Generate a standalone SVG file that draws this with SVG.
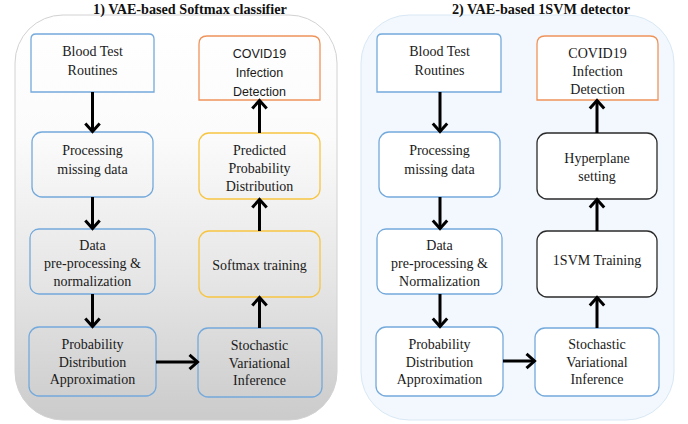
<svg xmlns="http://www.w3.org/2000/svg" width="688" height="424" viewBox="0 0 688 424">
  <defs>
    <linearGradient id="panelGray" x1="0" y1="0" x2="0" y2="1">
      <stop offset="0" stop-color="#ffffff"/>
      <stop offset="0.3" stop-color="#fbfbfb"/>
      <stop offset="0.65" stop-color="#e6e6e6"/>
      <stop offset="1" stop-color="#cbcbcb"/>
    </linearGradient>
    <marker id="chev" markerUnits="userSpaceOnUse" markerWidth="16" markerHeight="18" viewBox="0 0 16 18" refX="11.5" refY="9" orient="auto">
      <path d="M3,1.8 L11,9 L3,16.2" fill="none" stroke="#000" stroke-width="3" stroke-linejoin="miter"/>
    </marker>
    <style>
      .title { font-family: "Liberation Serif", "Times New Roman", serif; font-weight: bold; font-size: 14.2px; fill: #111; text-anchor: middle; }
      .lbl { font-family: "Liberation Serif", "Times New Roman", serif; font-size: 14px; fill: #1a1a1a; text-anchor: middle; }
      .sans { font-family: "Liberation Sans", Arial, sans-serif; font-size: 12.5px; fill: #1a1a1a; text-anchor: middle; }
      .blue { fill: none; stroke: #74a9dc; stroke-width: 1.3; }
      .blueW { fill: #ffffff; stroke: #74a9dc; stroke-width: 1.3; }
      .yellow { fill: none; stroke: #f7c540; stroke-width: 1.3; }
      .orange { fill: none; stroke: #f0935a; stroke-width: 1.3; }
      .orangeW { fill: #ffffff; stroke: #f0935a; stroke-width: 1.3; }
      .dark { fill: #ffffff; stroke: #2a2a2a; stroke-width: 1.3; }
      .conn { stroke: #000; stroke-width: 3; fill: none; marker-end: url(#chev); }
    </style>
  </defs>

  <!-- panel backgrounds -->
  <g id="panel-softmax">
    <rect x="15" y="15" width="322" height="405" rx="48" ry="48" fill="url(#panelGray)" stroke="#d2d2d2" stroke-width="1"/>
    <text class="title" x="190" y="14">1)  VAE-based Softmax classifier</text>
  </g>
  <g id="panel-1svm">
    <rect x="361" y="15" width="313" height="405" rx="48" ry="48" fill="#f2f8fd" stroke="#d9e8f5" stroke-width="1"/>
    <text class="title" x="541" y="14">2)  VAE-based 1SVM detector</text>
  </g>

  <!-- left flow -->
  <g id="L-blood">
    <path class="blue" d="M31,92 L31,39 Q31,34 36,34 L149,34 Q154,34 154,39 L154,92 Z"/>
    <text class="lbl" x="92.5" y="56">Blood Test</text>
    <text class="lbl" x="92.5" y="75">Routines</text>
  </g>
  <g id="L-missing">
    <rect class="blue" x="32" y="132" width="121" height="65" rx="10"/>
    <text class="lbl" x="92.5" y="155">Processing</text>
    <text class="lbl" x="92.5" y="174">missing data</text>
  </g>
  <g id="L-preproc">
    <rect class="blue" x="30" y="229" width="125" height="65" rx="9"/>
    <text class="lbl" x="92.5" y="250">Data</text>
    <text class="lbl" x="92.5" y="268">pre-processing &amp;</text>
    <text class="lbl" x="92.5" y="286">normalization</text>
  </g>
  <g id="L-approx">
    <rect class="blue" x="29" y="327" width="127" height="69" rx="10"/>
    <text class="lbl" x="92.5" y="349">Probability</text>
    <text class="lbl" x="92.5" y="366.5">Distribution</text>
    <text class="lbl" x="92.5" y="384">Approximation</text>
  </g>
  <g id="L-svi">
    <rect class="blue" x="198" y="328" width="124" height="69" rx="10"/>
    <text class="lbl" x="259.5" y="350">Stochastic</text>
    <text class="lbl" x="259.5" y="367.5">Variational</text>
    <text class="lbl" x="259.5" y="385">Inference</text>
  </g>
  <g id="L-softmax">
    <rect class="yellow" x="199" y="231" width="121" height="66" rx="10"/>
    <text class="lbl" x="259.5" y="270">Softmax training</text>
  </g>
  <g id="L-predicted">
    <rect class="yellow" x="199" y="133" width="121" height="66" rx="10"/>
    <text class="lbl" x="259.5" y="155">Predicted</text>
    <text class="lbl" x="259.5" y="173">Probability</text>
    <text class="lbl" x="259.5" y="191">Distribution</text>
  </g>
  <g id="L-covid">
    <path class="orange" d="M199,100 L199,44 Q199,36 207,36 L312,36 Q320,36 320,44 L320,100 Z"/>
    <text class="sans" x="259.5" y="58">COVID19</text>
    <text class="sans" x="259.5" y="77">Infection</text>
    <text class="sans" x="259.5" y="96">Detection</text>
  </g>

  <!-- right flow -->
  <g id="R-blood">
    <path class="blueW" d="M377,92 L377,39 Q377,34 382,34 L496,34 Q501,34 501,39 L501,92 Z"/>
    <text class="lbl" x="439.5" y="56">Blood Test</text>
    <text class="lbl" x="439.5" y="75">Routines</text>
  </g>
  <g id="R-missing">
    <rect class="blueW" x="379" y="132" width="121" height="65" rx="10"/>
    <text class="lbl" x="439.5" y="155">Processing</text>
    <text class="lbl" x="439.5" y="174">missing data</text>
  </g>
  <g id="R-preproc">
    <rect class="blueW" x="377" y="229" width="125" height="65" rx="9"/>
    <text class="lbl" x="439.5" y="250">Data</text>
    <text class="lbl" x="439.5" y="268">pre-processing &amp;</text>
    <text class="lbl" x="439.5" y="286">Normalization</text>
  </g>
  <g id="R-approx">
    <rect class="blueW" x="376" y="327" width="127" height="69" rx="10"/>
    <text class="lbl" x="439.5" y="349">Probability</text>
    <text class="lbl" x="439.5" y="366.5">Distribution</text>
    <text class="lbl" x="439.5" y="384">Approximation</text>
  </g>
  <g id="R-svi">
    <rect class="blueW" x="535" y="328" width="124" height="68" rx="10"/>
    <text class="lbl" x="597" y="349">Stochastic</text>
    <text class="lbl" x="597" y="366.5">Variational</text>
    <text class="lbl" x="597" y="384">Inference</text>
  </g>
  <g id="R-training">
    <rect class="dark" x="537" y="231" width="120" height="66" rx="10"/>
    <text class="lbl" x="597" y="265">1SVM Training</text>
  </g>
  <g id="R-hyperplane">
    <rect class="dark" x="537" y="133" width="120" height="66" rx="10"/>
    <text class="lbl" x="597" y="163">Hyperplane</text>
    <text class="lbl" x="597" y="181">setting</text>
  </g>
  <g id="R-covid">
    <path class="orangeW" d="M537,100 L537,44 Q537,36 545,36 L650,36 Q658,36 658,44 L658,100 Z"/>
    <text class="lbl" x="597.5" y="58">COVID19</text>
    <text class="lbl" x="597.5" y="76">Infection</text>
    <text class="lbl" x="597.5" y="94">Detection</text>
  </g>

  <!-- connectors -->
  <g id="connectors">
    <line class="conn" x1="92.5" y1="92" x2="92.5" y2="132"/>
    <line class="conn" x1="92.5" y1="197" x2="92.5" y2="229"/>
    <line class="conn" x1="92.5" y1="294" x2="92.5" y2="327"/>
    <line class="conn" x1="156" y1="362" x2="198" y2="362"/>
    <line class="conn" x1="259.5" y1="328" x2="259.5" y2="297"/>
    <line class="conn" x1="259.5" y1="231" x2="259.5" y2="199"/>
    <line class="conn" x1="259.5" y1="133" x2="259.5" y2="100"/>

    <line class="conn" x1="440" y1="92" x2="440" y2="132"/>
    <line class="conn" x1="440" y1="197" x2="440" y2="229"/>
    <line class="conn" x1="440" y1="294" x2="440" y2="327"/>
    <line class="conn" x1="503" y1="361" x2="535" y2="361"/>
    <line class="conn" x1="597" y1="328" x2="597" y2="297"/>
    <line class="conn" x1="597" y1="231" x2="597" y2="199"/>
    <line class="conn" x1="597" y1="133" x2="597" y2="100"/>
  </g>
</svg>
